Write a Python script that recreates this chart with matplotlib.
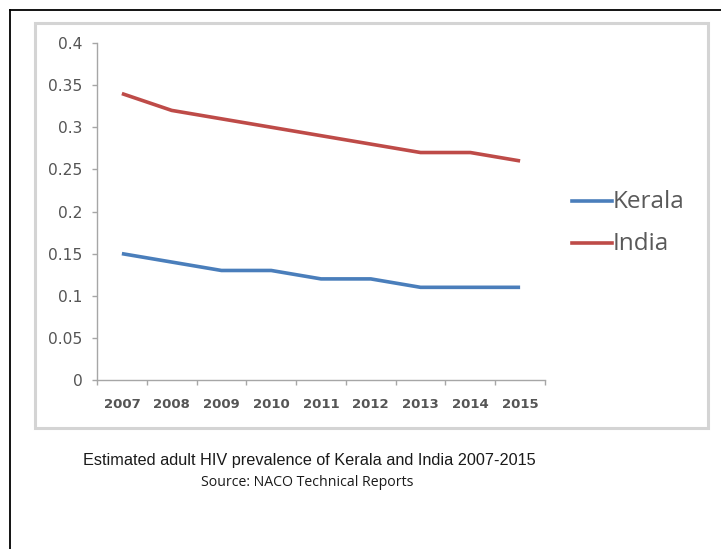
import matplotlib
matplotlib.use("Agg")
import matplotlib.pyplot as plt
from matplotlib.patches import Rectangle
from matplotlib.lines import Line2D

years = ["2007", "2008", "2009", "2010", "2011", "2012", "2013", "2014", "2015"]
kerala = [0.15, 0.14, 0.13, 0.13, 0.12, 0.12, 0.11, 0.11, 0.11]
india = [0.34, 0.32, 0.31, 0.30, 0.29, 0.28, 0.27, 0.27, 0.26]
y_ticks = [0, 0.05, 0.1, 0.15, 0.2, 0.25, 0.3, 0.35, 0.4]
y_tick_labels = ["0", "0.05", "0.1", "0.15", "0.2", "0.25", "0.3", "0.35", "0.4"]

W, H = 721, 549
fig = plt.figure(figsize=(W / 100, H / 100), dpi=100)
fig.patch.set_facecolor("white")

def fx(px):
    return px / W

def fy(py):
    return 1 - py / H

# outer black page border (left and top edges)
fig.add_artist(Line2D([fx(10), fx(10)], [fy(10), 0], transform=fig.transFigure,
                      color="black", lw=1.3))
fig.add_artist(Line2D([fx(10), 1], [fy(10), fy(10)], transform=fig.transFigure,
                      color="black", lw=1.3))

# light gray chart-area frame
fig.add_artist(Rectangle((fx(35), fy(428)), fx(708) - fx(35), fy(23) - fy(428),
                         transform=fig.transFigure, fill=False,
                         edgecolor="#d4d4d4", lw=2.2))

ax = fig.add_axes([fx(97), fy(380), fx(545) - fx(97), fy(43) - fy(380)])
x = list(range(len(years)))
blue = "#4A7EBB"
red = "#BE4B48"
series = [("Kerala", kerala, blue), ("India", india, red)]
for name, vals, col in series:
    ax.plot(x, vals, color=col, lw=2.6, solid_capstyle="butt", label=name)

ax.set_xlim(-0.5, len(years) - 0.5)
ax.set_ylim(0, 0.4)
ax.set_yticks(y_ticks)
ax.set_yticklabels(y_tick_labels)
ax.set_xticks(x)
ax.set_xticklabels(years)
ax.set_xticks([i - 0.5 for i in range(len(years) + 1)], minor=True)
ax.tick_params(axis="x", which="major", length=0, pad=13, labelsize=9.5,
               labelcolor="#555555")
ax.tick_params(axis="x", which="minor", length=3.6, color="#a6a6a6", width=1)
ax.tick_params(axis="y", length=3.6, color="#a6a6a6", width=1, pad=7,
               labelsize=11.2, labelcolor="#555555")
for lbl in ax.get_xticklabels():
    lbl.set_fontweight("bold")
for s in ["top", "right"]:
    ax.spines[s].set_visible(False)
for s in ["left", "bottom"]:
    ax.spines[s].set_color("#a6a6a6")
    ax.spines[s].set_linewidth(1)

# legend entries to the right of the plot
leg_rows = [201, 243]
for (name, vals, col), ry in zip(series, leg_rows):
    fig.add_artist(Line2D([fx(572), fx(612)], [fy(ry), fy(ry)],
                          transform=fig.transFigure, color=col, lw=2.6))
    fig.text(fx(613), fy(ry + 1), name, ha="left", va="center",
             family="Open Sans", fontsize=17.5, color="#595959")

fig.text(fx(309), fy(461), "Estimated adult HIV prevalence of Kerala and India 2007-2015",
         ha="center", va="center", family="Liberation Sans", fontsize=11.7,
         color="#1a1a1a")
fig.text(fx(307), fy(483), "Source: NACO Technical Reports",
         ha="center", va="center", family="Open Sans", fontsize=10.2,
         color="#1a1a1a")

fig.savefig("out.png", dpi=100, facecolor="white")
